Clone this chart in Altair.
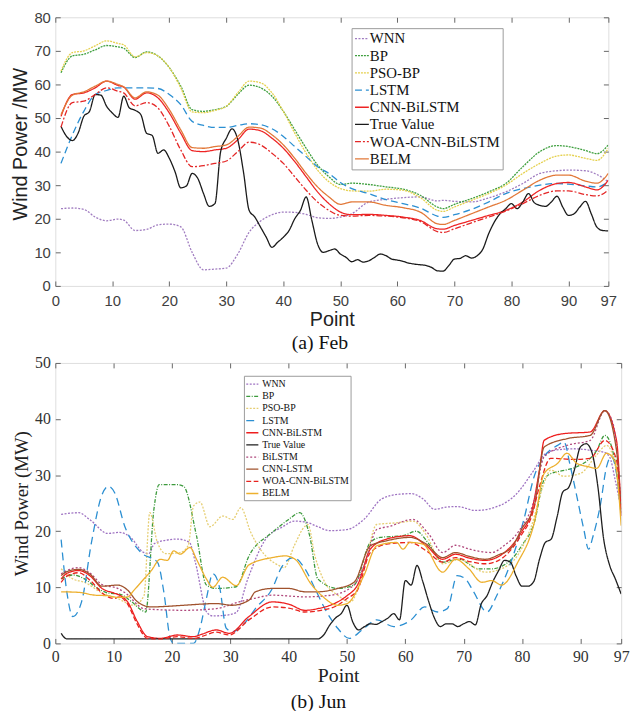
import altair as alt
import pandas as pd

# ---------------- Panel (a) Feb ----------------
names_a = ["WNN", "BP", "PSO-BP", "LSTM", "CNN-BiLSTM", "True Value", "WOA-CNN-BiLSTM", "BELM"]
colors_a = ["#A07CC0", "#3E9F3E", "#E5D04C", "#2B8FD2", "#EE2424", "#1A1A1A", "#E42626", "#E27838"]
dash_a = [[2, 1.5], [2, 1], [2, 1], [7, 4], [1, 0], [1, 0], [6, 2, 2, 2], [1, 0]]
width_a = [1.3, 1.3, 1.3, 2.2, 2.6, 1.8, 2.0, 2.0]

grid_a = [1, 3, 5, 7, 9, 11, 12, 14, 16, 18, 20, 22, 24, 26, 28, 30, 32, 34, 36, 38, 40, 42, 44, 46,
          48, 50, 52, 55, 58, 61, 64, 67, 68, 70, 73, 76, 79, 82, 85, 88, 90, 93, 95, 97]
wnn_a = [23, 23.2, 22.8, 20.5, 19.4, 19.9, 19.6, 16.5, 16.8, 18.2, 18.4, 17.6, 10, 4.8, 5, 5.3, 9.5, 16,
         19.3, 21.2, 22, 21.9, 21.3, 20.3, 20.1, 20.5, 21.5, 25, 25.8, 26.3, 26.5, 25.3, 25.5, 25.2, 25,
         26.2, 28, 30.5, 33.5, 34.3, 34.5, 34.3, 33.2, 31]
bp_a = [63.5, 68.5, 69, 70.3, 71.6, 71.2, 70.8, 68, 69.7, 68.5, 65, 59.5, 52.5, 52, 52.5, 53.5, 57, 59.8,
        59, 56.5, 52, 46.5, 41, 36, 32.5, 30.2, 30.6, 30.2, 29.5, 28.8, 27, 23.5, 23, 24.3, 26, 28, 30.5,
        35.5, 40, 41.8, 41.5, 40.3, 39.4, 42]
psobp_a = [64, 69.5, 70, 71.5, 73, 72.2, 71.8, 68.2, 69.5, 68.5, 65, 59, 51.8, 51.6, 52.3, 53.5, 57.5, 61,
           60.5, 57.5, 52, 45.5, 39.5, 34.5, 31, 29, 28.3, 28.2, 28.8, 28.5, 26.3, 22.5, 22.2, 23.5, 25.5,
           27.5, 30, 33.5, 36.5, 38.7, 39, 38, 37.4, 41]
lstm_a = [36.5, 45, 52, 57, 58.2, 59, 59, 59, 59, 58.8, 57, 54, 49, 47.8, 47.2, 47.2, 47.8, 48.3, 48, 46.8,
          44.5, 41.5, 38.5, 35.5, 33.5, 30.8, 29, 27.5, 25.7, 24.5, 23.2, 20.8, 20.4, 21.2, 22.8, 25, 27.5,
          29, 30, 30.5, 30.3, 29.8, 29.5, 31]
cnnbilstm_a = [50.5, 57, 57.5, 59, 61, 59.7, 59.2, 55.6, 57.5, 56, 51.5, 45.5, 40.3, 40, 40.5, 41, 43.5,
               46.7, 46.2, 44, 41, 37, 32.5, 28, 24.5, 22, 21.2, 21.3, 21, 20.5, 19.5, 17, 16.9, 18, 19.5,
               21, 22.5, 25, 28.5, 30.5, 30.8, 29.5, 28.6, 31.5]
woa_a = [47.3, 54.6, 55, 57, 59, 58, 57.5, 53.6, 54.6, 53, 47.5, 40.5, 35.5, 35.8, 36.5, 37.2, 40, 42.8, 42,
         39.5, 36.5, 32.5, 28.5, 25, 22.5, 21, 20.8, 21, 20.8, 20.3, 19.2, 16.2, 15.9, 17, 18.8, 20.5, 22.3,
         24.5, 27, 28.3, 28.3, 27.2, 26.8, 28.6]
belm_a = [51, 56.8, 57.8, 59.5, 61, 60, 59.3, 56, 57.8, 56.8, 52.5, 46.5, 41.2, 41, 41.5, 42, 44.5, 47.3,
          47, 45, 42, 38, 33.5, 29.5, 26.5, 24.3, 25, 25, 24, 23.3, 22, 18.5, 18.3, 19.5, 21.5, 23.5, 25.5,
          28.5, 31.5, 33, 33, 31.2, 30.6, 33.5]
true_x_a = list(range(1, 98))
true_a = [47.5, 44.5, 43.3, 45.5, 50.5, 52, 57, 56.8, 53.5, 51.5, 50.2, 56.5, 53, 52.3, 51, 45.5, 44.8, 39.5,
          40.5, 38, 34, 29.2, 29.8, 33.5, 32, 27.5, 23.7, 24.5, 40, 44, 46.8, 43.5, 34, 22.5, 20.5, 17.5,
          14.5, 11.5, 13, 14.5, 16.5, 20, 22.5, 26.5, 19.5, 12.5, 10, 10.5, 11, 9.5, 8.5, 7.2, 7.8, 7.1,
          7.5, 8.5, 9.5, 9, 8, 7.7, 7.3, 6.8, 6.5, 6.3, 6.1, 5.5, 4.5, 4.4, 6, 8, 8.2, 9, 8.3, 9, 11, 15.5,
          19, 21.5, 23, 24.5, 23, 25, 27.5, 24.8, 24, 23.7, 25, 26.7, 23.5, 21, 21.5, 23.5, 25.2, 21.5,
          17.5, 16.5, 16.4]

series_a = {
    "WNN": (grid_a, wnn_a), "BP": (grid_a, bp_a), "PSO-BP": (grid_a, psobp_a),
    "LSTM": (grid_a, lstm_a), "CNN-BiLSTM": (grid_a, cnnbilstm_a), "True Value": (true_x_a, true_a),
    "WOA-CNN-BiLSTM": (grid_a, woa_a), "BELM": (grid_a, belm_a),
}

# ---------------- Panel (b) Jun ----------------
names_b = ["WNN", "BP", "PSO-BP", "LSTM", "CNN-BiLSTM", "True Value", "BiLSTM", "CNN-LSTM",
           "WOA-CNN-BiLSTM", "BELM"]
colors_b = ["#9E72C2", "#3C9A3C", "#E6CE72", "#2B8FD2", "#EE1E1E", "#1E1E1E", "#B0487C", "#A0522D",
            "#E8231E", "#EDB02E"]
dash_b = [[2, 1.5], [4, 1.5, 1, 1.5], [2, 1.5], [8, 5], [1, 0], [1, 0], [2, 2], [1, 0], [5, 2.5], [1, 0]]
width_b = [1.3, 1.3, 1.3, 2.4, 2.6, 2.0, 1.6, 1.8, 2.2, 2.0]

wnn_bx = [1, 4, 6, 9, 11, 13, 15, 16, 17, 19, 21, 23, 24, 26, 27, 29, 31, 33, 36, 39, 41, 43, 45, 47, 50,
          53, 56, 59, 61, 63, 65, 67, 69, 72, 76, 79, 82, 84, 86, 89, 92, 94, 95, 96, 97]
wnn_b = [23, 23.3, 22, 19.6, 19.8, 18.8, 16.3, 16, 17.8, 18.4, 18.6, 18, 14.5, 5.5, 4.9, 5, 5.5, 11.5,
         18.5, 20.8, 21.8, 21.6, 20.8, 20.1, 20.3, 22.2, 25.8, 26.6, 26.7, 25.8, 23.9, 24.3, 24.4, 23.7,
         24.5, 26.6, 30.8, 33.8, 34.5, 34.7, 34.4, 34.1, 33.3, 29, 24]
bp_bx = [1, 3, 5, 7, 9, 11, 13, 15, 15.5, 16.9, 17.8, 20.9, 22, 24.2, 25.9, 27.6, 31, 33.2, 37.2, 40, 41.9,
         43.6, 45, 48.4, 51.2, 54, 55.7, 59.6, 61.9, 64, 66.4, 69.2, 72.6, 74.8, 78.2, 80, 82.1, 83.8, 85,
         87.5, 89.4, 92.8, 94.2, 95.9, 97]
bp_b = [11.5, 12.2, 11.5, 10, 9, 8.8, 7.5, 5.8, 5.6, 23.9, 28.3, 28.3, 28, 19.2, 10.4, 9.8, 10.1, 15.6,
        19.8, 22.1, 23.3, 19.2, 11.5, 9.8, 10.4, 18, 18.9, 19.2, 20, 17.8, 14.5, 15, 13.3, 13.3, 15, 17.5,
        21.5, 29.2, 30.3, 30.9, 31.5, 34.4, 37.1, 32.7, 23.3]
psobp_bx = [1, 3, 5, 8, 10.7, 13.5, 15.2, 16.2, 17.5, 19, 21.4, 22.8, 23.7, 24.8, 26.5, 28.7, 30.4, 31.8,
            33.5, 35, 38.3, 39.2, 41, 42.8, 43.3, 44.5, 46.2, 48.4, 50.6, 52.9, 55.1, 58.5, 61.3, 63.5,
            66.4, 69.2, 73.7, 77.6, 81.6, 83.8, 84.9, 87.2, 90, 92.8, 94.5, 95.9, 97]
psobp_b = [13.3, 11.5, 10.9, 9, 8, 6.8, 8.5, 23.3, 18, 16, 16.2, 17.5, 24.5, 25.2, 20.8, 22.7, 22.1, 24.2,
           19.8, 17, 13.9, 13.5, 17.5, 20.9, 21.2, 15.6, 10.9, 8.6, 7.4, 13.3, 21.2, 21.5, 21.8, 19.5,
           14.2, 15, 12.7, 13.9, 20.9, 28.6, 30.9, 29.8, 30.3, 33.6, 35.3, 32.1, 22.7]
lstm_bx = [1, 2, 3, 4.5, 6.2, 7.9, 9.1, 10.2, 11.9, 14.7, 17.5, 18.6, 19.7, 20.3, 23.7, 24.8, 25.9, 27,
           28.2, 29.3, 30.4, 32.7, 34.3, 37.2, 38.8, 40.8, 42.8, 44.5, 46.2, 48.4, 50.4, 52.9, 55.1, 58,
           61, 63.3, 65.5, 67.2, 68.9, 70.3, 71.7, 74, 75.7, 77.9, 80.3, 82.1, 83.8, 86.1, 87.2, 88.3, 89.4,
           90.6, 91.4, 92.2, 93.4, 94.5, 95.3, 96.2, 97]
lstm_b = [18.5, 9, 4.8, 7.4, 18, 26.2, 28, 26.8, 20.9, 16.2, 14.5, 9.2, 0.9, 0, 0, 2.7, 8, 12.4, 9.8, 2.7,
          2.1, 3.9, 6.2, 9.8, 13.6, 15.3, 13.3, 9.8, 6.2, 2.7, 0.9, 2.7, 4.2, 3, 4.2, 6.5, 5.6, 6.2, 12.1,
          11.5, 9.2, 5.6, 8.6, 13.9, 22, 29.8, 33.3, 35.3, 35.9, 31.5, 26.2, 20.3, 16.8, 19.2, 24.5, 31.5,
          33.3, 30.3, 22.7]
cnnbilstm_bx = [1, 2, 4, 6, 8, 10, 11, 12.4, 14, 15.8, 18, 20.9, 23.7, 25, 27.6, 29.8, 33.2, 37.2, 40,
                42.8, 45, 48.4, 50, 51.8, 54, 56.8, 60.8, 63.6, 66.4, 68.6, 71, 73.7, 76, 78.2, 80, 81.6,
                83, 83.8, 87.2, 91.7, 94.2, 96.2, 97]
cnnbilstm_b = [11.5, 12.5, 13, 12, 9.8, 9, 8.6, 7.4, 4, 1.2, 0.9, 1.5, 1.2, 1.6, 2.4, 1.8, 4.8, 7.4, 7, 5.9,
               6.2, 7.4, 8.5, 10.4, 16.8, 18.6, 19.2, 17.4, 15, 15.9, 15.2, 14.8, 15.5, 17.4, 20, 23.3,
               31, 36.2, 37.4, 37.7, 41.5, 36.2, 22.7]
true_bx = [1, 2, 10, 20, 30, 40, 45, 46, 47, 48, 49, 50, 51, 52, 53, 54, 55, 56, 57, 58, 59, 60, 61, 62,
           63, 64, 65, 66, 67, 68, 69, 70, 71, 72, 73, 74, 75, 76, 77, 78, 79, 80, 81, 82, 83, 84, 85, 86,
           87, 88, 89, 90, 91, 92, 93, 94, 95, 96, 97]
true_b = [1.8, 0.8, 0.8, 0.8, 0.8, 0.8, 0.8, 1.5, 3.2, 4.5, 5.3, 6.8, 3.8, 2.4, 3, 3.5, 3.4, 3.9, 4.5, 5.3,
          4.2, 11.2, 10.4, 13.9, 11, 7.5, 4.5, 3, 3.5, 3.5, 3, 3.5, 3.9, 3.3, 7, 8.5, 11, 13, 14.8, 14.5,
          12, 10.2, 10.2, 11, 15, 18, 18.6, 22.5, 27, 27.8, 31, 35, 35.6, 34, 28, 18.6, 14, 11.5, 8.8]
bilstm_bx = [1, 2, 4, 6, 8, 10.7, 12, 15.2, 18, 22, 27.6, 31.5, 34, 37.2, 42.8, 47.3, 51.2, 53, 55.1,
             57.4, 61.3, 64, 66.4, 68.6, 71, 74.8, 77, 79.3, 82.1, 83.8, 87.7, 91.7, 94.2, 95.6, 97]
bilstm_b = [12.4, 13, 13.5, 12.5, 10.5, 9.8, 9, 6.2, 6, 5.9, 6.2, 7.4, 8, 8.6, 8.3, 8.6, 10.4, 14, 20.3,
            20.9, 22.1, 19.5, 16.2, 17.5, 16.8, 16.2, 17.5, 19.8, 25.6, 33.3, 35.3, 36.2, 41.5, 39.2, 24.5]
cnnlstm_bx = [1, 2, 4, 6, 8, 10.7, 12.4, 14, 16.4, 19, 22, 27.6, 30.3, 33.2, 34.3, 37.2, 40, 42.8, 45,
              48.4, 51.2, 54, 56.8, 60.8, 63.6, 66.4, 68.6, 71, 73.7, 76, 78.2, 80, 82.1, 83.8, 87.7,
              91.7, 94.2, 96.2, 97]
cnnlstm_b = [12.1, 12.8, 13.2, 12.3, 10.2, 10.4, 9.5, 7.5, 6.5, 6.6, 6.8, 7.1, 6.8, 7.7, 9.2, 9.8, 9.8,
             9.2, 9.2, 9.8, 10.9, 17.4, 18.3, 18.9, 17.7, 15.3, 16.2, 15.5, 15, 15.8, 17.1, 20.5, 24.5, 35,
             36.5, 37.1, 41.5, 34.4, 23.3]
woa_bx = [1, 2, 4, 6, 8, 10, 11, 12.4, 14, 15.8, 18, 20.9, 23.7, 25, 27.6, 29.8, 33.2, 37.2, 40, 42.8,
          45, 48.4, 50, 51.8, 54, 56.8, 60.8, 63.6, 66.4, 68.6, 71, 73.7, 76, 78.2, 80, 81.6, 83, 84.9,
          88.9, 91.7, 94.2, 96.2, 97]
woa_b = [10.9, 12, 12.6, 11.2, 9, 8, 8.3, 7, 3.5, 0.9, 0.8, 1.2, 0.9, 1.2, 2, 1.5, 4.2, 6.5, 6.3, 5.6, 5.8,
         6.8, 8, 9.5, 16.2, 17.7, 18, 16.5, 14.5, 15.3, 14.6, 14.2, 14.8, 16.8, 19.5, 22.5, 28, 33, 32.8,
         33, 36.2, 32.7, 22.7]
belm_bx = [1, 4, 6.8, 9, 10.7, 12.4, 13.5, 15.2, 16.4, 18, 19.2, 20.3, 21.4, 23.1, 24.2, 25.9, 27, 28.7,
           31, 33.2, 37.2, 39.4, 41.1, 43.9, 45.6, 48.4, 50, 52.9, 55.1, 58.5, 59.6, 60.8, 63, 66.4, 68.6,
           70.9, 73.1, 74.8, 76.5, 79.3, 82.1, 83.8, 86.1, 87.7, 89.4, 91.4, 92.8, 94.5, 95.9, 97]
belm_b = [9.2, 9.1, 8.6, 8.5, 8.2, 8.3, 9.5, 11.5, 12.9, 15, 14.8, 16.5, 15.9, 17.1, 15, 11.5, 10, 11.8,
          10.3, 14, 15.3, 15.6, 15, 10.5, 8.6, 6.8, 7.1, 12.1, 17.4, 18, 16.8, 18, 17.7, 12.7, 15, 13.3,
          10.9, 11.2, 10.4, 14.5, 21.5, 30.3, 32.1, 33.9, 32.1, 31.5, 31.2, 33.9, 32.5, 21]

series_b = {
    "WNN": (wnn_bx, wnn_b), "BP": (bp_bx, bp_b), "PSO-BP": (psobp_bx, psobp_b),
    "LSTM": (lstm_bx, lstm_b), "CNN-BiLSTM": (cnnbilstm_bx, cnnbilstm_b),
    "True Value": (true_bx, true_b), "BiLSTM": (bilstm_bx, bilstm_b),
    "CNN-LSTM": (cnnlstm_bx, cnnlstm_b), "WOA-CNN-BiLSTM": (woa_bx, woa_b), "BELM": (belm_bx, belm_b),
}

x_ticks = [0, 10, 20, 30, 40, 50, 60, 70, 80, 90, 97]
y_ticks_a = [0, 10, 20, 30, 40, 50, 60, 70, 80]
y_ticks_b = [0, 10, 20, 30, 40, 50]


def make_df(series, names):
    rows = []
    for k, name in enumerate(names):
        xs, ys = series[name]
        for i, (xv, yv) in enumerate(zip(xs, ys)):
            rows.append({"series": name, "x": xv, "y": yv, "k": k, "i": i})
    return pd.DataFrame(rows)


def panel(df, names, colors, dashes, widths, ymax, yticks, w, h, font, lab_size, x_lab_pad,
          x_title_size, x_title_pad, y_title, y_title_size, y_title_y, legend, caption, caption_dx,
          caption_offset, tick_col, lab_col):
    xs = alt.Scale(domain=[0, 97], nice=False, zero=False)
    ys = alt.Scale(domain=[0, ymax], nice=False, zero=False)
    lines = alt.Chart(df).mark_line(interpolate="monotone", clip=True).encode(
        x=alt.X("x:Q", scale=xs, axis=alt.Axis(
            values=x_ticks, format="d", title="Point", titleFont=font, titleFontSize=x_title_size,
            titleFontWeight="normal", titleColor="#222", titlePadding=x_title_pad,
            labelFont=font, labelFontSize=lab_size, labelColor=lab_col, labelPadding=x_lab_pad,
            tickSize=5, tickColor=tick_col, offset=-5, domain=False, grid=False, labelFlush=False)),
        y=alt.Y("y:Q", scale=ys, axis=alt.Axis(
            values=yticks, title=y_title, titleFont=font, titleFontSize=y_title_size,
            titleFontWeight="normal", titleColor="#222", titlePadding=3, titleY=y_title_y,
            labelFont=font, labelFontSize=lab_size, labelColor=lab_col, labelPadding=5,
            tickSize=5, tickColor=tick_col, offset=-5, domain=False, grid=False)),
        color=alt.Color("series:N", scale=alt.Scale(domain=names, range=colors), legend=legend),
        strokeDash=alt.StrokeDash("series:N", scale=alt.Scale(domain=names, range=dashes)),
        strokeWidth=alt.StrokeWidth("series:N", scale=alt.Scale(domain=names, range=widths)),
        order="i:Q",
    )
    frame_axes = alt.Chart(df).mark_point(opacity=0).encode(
        x=alt.X("x:Q", scale=xs, axis=alt.Axis(
            orient="top", values=x_ticks, labels=False, title=None, tickSize=5, tickColor=tick_col,
            offset=-5, domain=False, grid=False)),
        y=alt.Y("y:Q", scale=ys, axis=alt.Axis(
            orient="right", values=yticks, labels=False, title=None, tickSize=5, tickColor=tick_col,
            offset=-5, domain=False, grid=False)),
    )
    return alt.layer(lines, frame_axes).resolve_axis(x="independent", y="independent").properties(
        width=w, height=h,
        title=alt.TitleParams(caption, orient="bottom", font="Liberation Serif", fontSize=20,
                              fontWeight="normal", color="#111", anchor="middle", dx=caption_dx,
                              offset=caption_offset),
    )


df_a = make_df(series_a, names_a)
df_b = make_df(series_b, names_b)

legend_a = alt.Legend(title=None, orient="none", legendX=300, legendY=11, symbolType="stroke",
                      symbolSize=196, labelFont="Liberation Serif", labelFontSize=15, labelColor="#111",
                      padding=2.5, rowPadding=1.4, labelOffset=0, strokeColor="#9a9a9a", fillColor="white",
                      labelLimit=300)
legend_b = alt.Legend(title=None, orient="none", legendX=191, legendY=13, symbolType="stroke",
                      symbolSize=150, labelFont="Liberation Serif", labelFontSize=10, labelColor="#111",
                      padding=1.5, rowPadding=0.3, labelOffset=3, strokeColor="#9a9a9a",
                      fillColor="white", labelLimit=300)

top = panel(df_a, names_a, colors_a, dash_a, width_a, 80, y_ticks_a, 560, 272, "Liberation Sans", 15, 8,
            20, 1, "Wind Power /MW", 20, 128, legend_a, "(a) Feb", -12, 4, "#666", "#404040")
bottom = panel(df_b, names_b, colors_b, dash_b, width_b, 50, y_ticks_b, 573, 284, "Liberation Serif", 16,
               5, 20, 2, "Wind Power (MW)", 19, 142, legend_b, "(b) Jun", -20, 6, "#666", "#333")

chart = alt.vconcat(top, bottom, spacing=0).resolve_scale(
    color="independent", strokeDash="independent", strokeWidth="independent"
).properties(
    padding={"left": 10, "top": 5, "right": 5, "bottom": 0}
).configure_view(stroke="#999999", strokeWidth=1).configure(background="white")

chart.save("out.html", embed_options={"renderer": "svg", "actions": False})
